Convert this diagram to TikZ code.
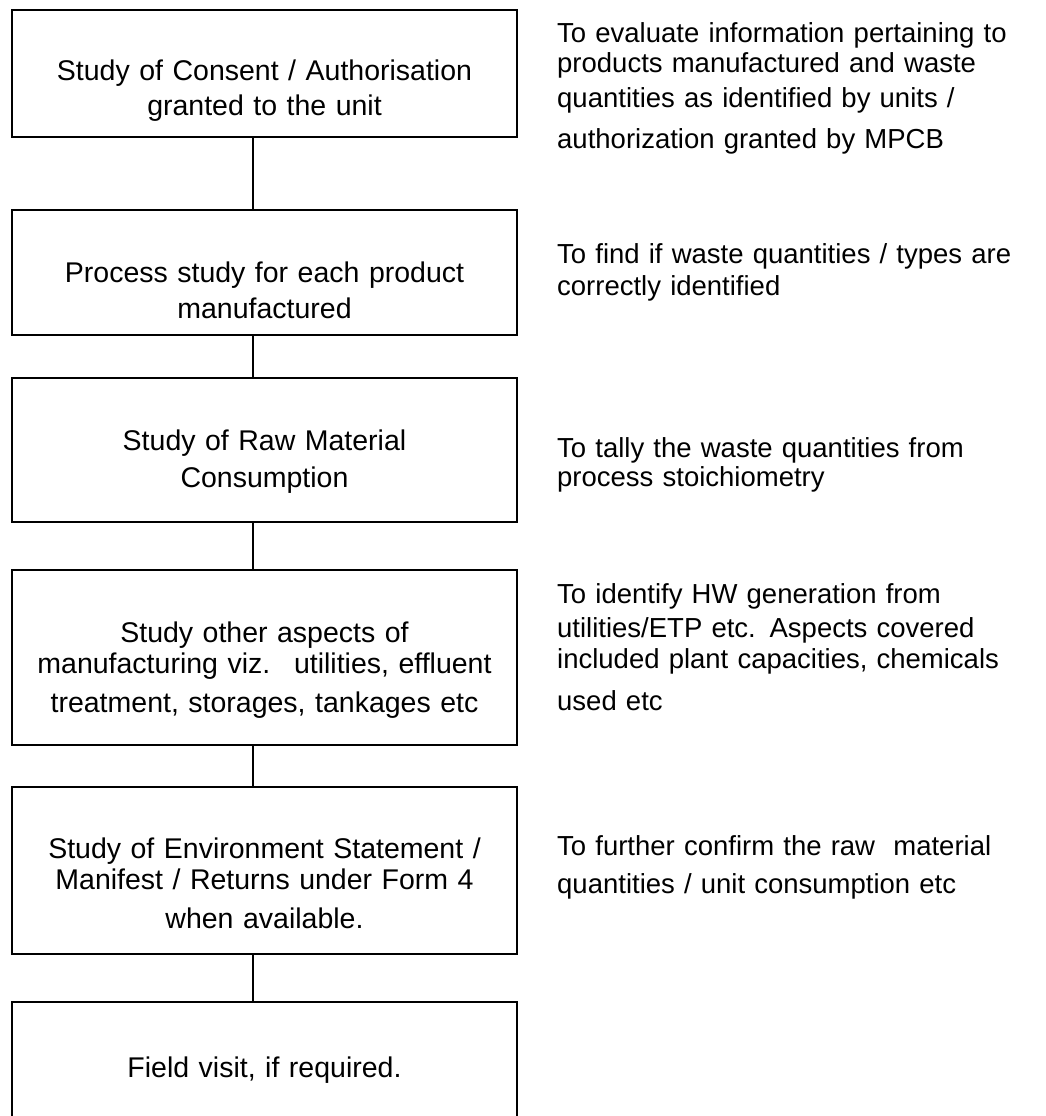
\documentclass[tikz,border=0pt]{standalone}
\usepackage{fontspec}
\setmainfont{Liberation Sans}
\usepackage{tikz}

\tikzset{
  stage/.style={draw, line width=2pt, inner sep=0pt, outer sep=0pt,
    anchor=north west, minimum width=505pt},
  stagetext/.style={anchor=base, text width=500pt, align=center, inner sep=0pt,
    font=\fontsize{28.5}{31}\selectfont},
  remark/.style={anchor=base west, text width=480pt, align=left, inner sep=0pt,
    font=\fontsize{27.5}{29}\selectfont},
  link/.style={line width=2pt}
}

\begin{document}
\begin{tikzpicture}[x=1pt,y=-1pt]
\useasboundingbox (0,0) rectangle (1045,1116);
\clip (0,0) rectangle (1045,1116);

% boxes
\node[stage, minimum height=127pt] (consent) at (12,10) {};
\node[stage, minimum height=125pt] (process) at (12,210) {};
\node[stage, minimum height=144pt] (rawmat) at (12,378) {};
\node[stage, minimum height=175pt] (aspects) at (12,570) {};
\node[stage, minimum height=167pt] (envstat) at (12,787) {};
\node[stage, minimum height=150pt] (visit) at (12,1002) {};

% box texts
\node[stagetext] (consenttxt) at (264.5,81) {Study of Consent / Authorisation\\[4pt]granted to the unit};
\node[stagetext] (processtxt) at (264.5,282) {Process study for each product\\[5pt]manufactured};
\node[stagetext] (rawmattxt) at (264.5,450) {Study of Raw Material\\[6pt]Consumption};
\node[stagetext] (aspectstxt) at (264.5,642) {Study other aspects of\\manufacturing viz.~ utilities, effluent\\[8pt]treatment, storages, tankages etc};
\node[stagetext] (envstattxt) at (264.5,858) {Study of Environment Statement /\\Manifest / Returns under Form 4\\[8pt]when available.};
\node[stagetext] (visittxt) at (264.5,1077) {Field visit, if required.};

% connectors
\coordinate (spine) at (253,0);
\draw[link] (consent.south -| spine) -- (process.north -| spine);
\draw[link] (process.south -| spine) -- (rawmat.north -| spine);
\draw[link] (rawmat.south -| spine) -- (aspects.north -| spine);
\draw[link] (aspects.south -| spine) -- (envstat.north -| spine);
\draw[link] (envstat.south -| spine) -- (visit.north -| spine);

% remarks on the right
\node[remark] (consentnote) at (557,43) {To evaluate information pertaining to\\products manufactured and waste\\[7pt]quantities as identified by units /\\[11pt]authorization granted by MPCB};
\node[remark] (processnote) at (557,263) {To find if waste quantities / types are\\[3pt]correctly identified};
\node[remark] (rawmatnote) at (557,457) {To tally the waste quantities from\\process stoichiometry};
\node[remark] (aspectsnote) at (557,603) {To identify HW generation from\\[5pt]utilities/ETP etc. Aspects covered\\[2pt]included plant capacities, chemicals\\[13pt]used etc};
\node[remark] (envstatnote) at (557,855) {To further confirm the raw~ material\\[9pt]quantities / unit consumption etc};
\end{tikzpicture}
\end{document}
